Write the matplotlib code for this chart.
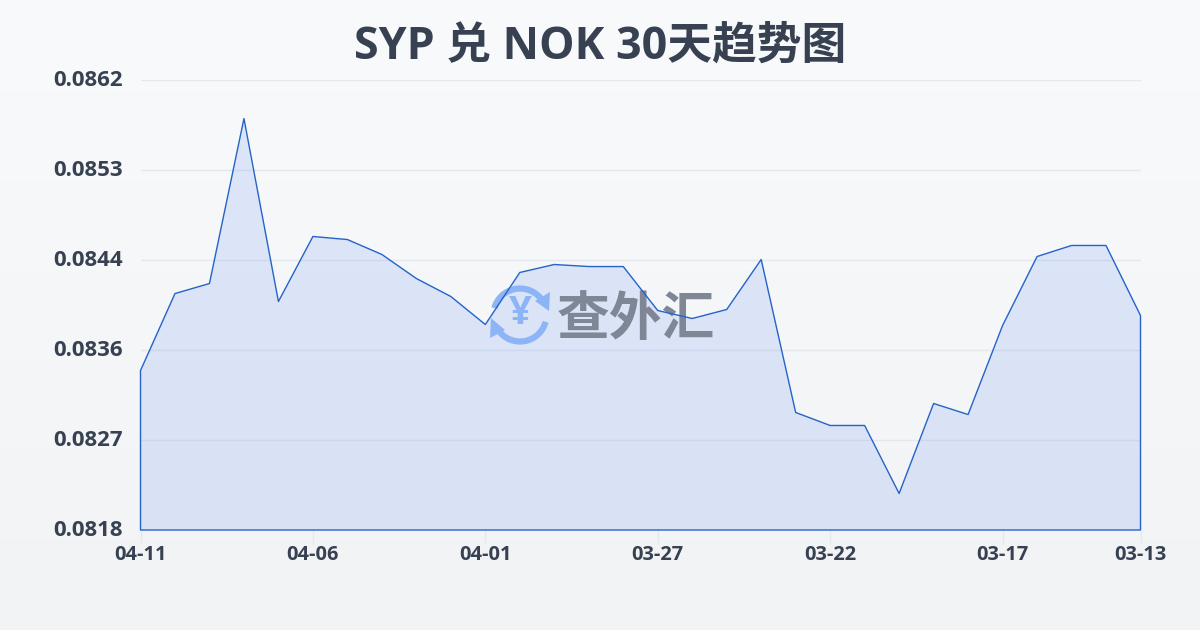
import numpy as np
import matplotlib
matplotlib.use("Agg")
import matplotlib.pyplot as plt
from matplotlib.patches import Arc, Polygon
from matplotlib.transforms import ScaledTranslation

plt.rcParams['font.family'] = ['Open Sans', 'Noto Sans CJK SC', 'DejaVu Sans']

title = "SYP 兑 NOK 30天趋势图"
values = [.083359, .084112, .08421, .085823, .084034, .08467, .08464, .084494,
          .084259, .084083, .083809, .084318, .084396, .084376, .084376, .083946,
          .083868, .083956, .084445, .082949, .082822, .082822, .082157, .083037,
          .082929, .083799, .084474, .084582, .084582, .083897]
x_tick_idx = [0, 5, 10, 15, 20, 25, 29]
x_tick_labels = ["04-11", "04-06", "04-01", "03-27", "03-22", "03-17", "03-13"]
y_ticks = [0.0818, 0.08268, 0.08356, 0.08444, 0.08532, 0.0862]
y_tick_labels = ["0.0818", "0.0827", "0.0836", "0.0844", "0.0853", "0.0862"]

W, H = 1200, 630
fig = plt.figure(figsize=(W / 100, H / 100), dpi=100)

bg = fig.add_axes([0, 0, 1, 1], zorder=0)
bg.axis("off")
grad = np.linspace(0, 1, 256)[:, None, None]
top = np.array([0xf8, 0xfa, 0xfc]) / 255
bot = np.array([0xf1, 0xf3, 0xf5]) / 255
bg.imshow(top + grad * (bot - top), aspect="auto", extent=[0, 1, 0, 1])

L, R, T, B = 140.5, 1140.5, 80.0, 530.0
ax = fig.add_axes([L / W, 1 - B / H, (R - L) / W, (B - T) / H], zorder=1)
ax.patch.set_alpha(0)
x = np.arange(len(values))
ax.set_xlim(0, len(values) - 1)
ax.set_ylim(y_ticks[0], y_ticks[-1])
for s in ax.spines.values():
    s.set_visible(False)

ax.grid(axis="y", color="#e4e8ef", lw=1, zorder=1)
ax.set_axisbelow(True)
ax.set_yticks(y_ticks, y_tick_labels, fontweight="bold")
ax.set_xticks(x_tick_idx, x_tick_labels, fontweight="bold")
ax.tick_params(axis="y", length=0, pad=13, labelsize=16, labelcolor="#374151")
ax.tick_params(axis="x", length=10, width=1, color="#e4e8ef", pad=1, labelsize=14.4, labelcolor="#374151")
for t in ax.get_yticklabels():
    t.set_verticalalignment("center")
    t.set_transform(t.get_transform() + ScaledTranslation(0, -0.7 / 72, fig.dpi_scale_trans))

ax.fill_between(x, values, y_ticks[0], facecolor="#2563eb", alpha=0.12, lw=0, zorder=2)

# watermark, in pixel coordinates
ov = fig.add_axes([0, 0, 1, 1], zorder=2)
ov.axis("off")
ov.patch.set_alpha(0)
ov.set_xlim(0, W)
ov.set_ylim(H, 0)
blue = "#8db4f6"
cx, cy, r = 520, 315, 26.5
ov.add_patch(Arc((cx, cy), 2 * r, 2 * r, theta1=195, theta2=325, color=blue, lw=4.5))
ov.add_patch(Arc((cx, cy), 2 * r, 2 * r, theta1=15, theta2=145, color=blue, lw=4.5))
ov.add_patch(Polygon([(549, 311), (535, 301), (550, 292)], color=blue, lw=0))
ov.add_patch(Polygon([(491, 318), (505, 330), (490, 338)], color=blue, lw=0))
ov.text(cx, cy - 1, "¥", color=blue, fontsize=29, fontweight="bold", ha="center", va="center")
ov.text(636, 319, "查外汇", color="#7f8696", fontsize=38, fontweight="bold", ha="center", va="center",
        family=["Noto Sans CJK SC"])

# line above the watermark
fg = fig.add_axes(ax.get_position(), zorder=3)
fg.axis("off")
fg.patch.set_alpha(0)
fg.set_xlim(ax.get_xlim())
fg.set_ylim(ax.get_ylim())
fg.fill_between(x, values, y_ticks[0], facecolor="none", edgecolor="#2563c9", lw=1, clip_on=False)

fig.text(600 / W, 1 - 47 / H, title, color="#374151", fontsize=32.2, fontweight="bold", ha="center", va="center")

fig.savefig("out.png", dpi=100)
